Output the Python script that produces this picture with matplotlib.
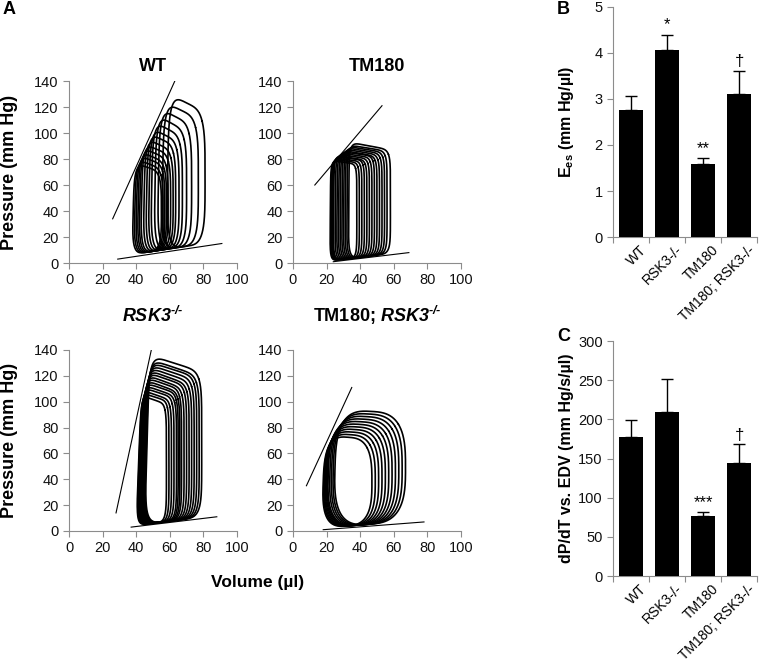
import matplotlib
matplotlib.use("Agg")
import matplotlib.pyplot as plt
import numpy as np

plt.rcParams['font.family'] = ['Liberation Sans', 'DejaVu Sans']
plt.rcParams['mathtext.fontset'] = 'custom'
plt.rcParams['mathtext.rm'] = 'Liberation Sans'
plt.rcParams['mathtext.bf'] = 'Liberation Sans:bold'
plt.rcParams['mathtext.it'] = 'Liberation Sans:italic'
plt.rcParams['mathtext.bfit'] = 'Liberation Sans:italic:bold'

# ---- panel A: pressure-volume loops ----
# esv = left side volume, edv = right side volume,
# pes = top-left pressure, ptr = top-right pressure
wt_esv = [37.5, 38.5, 39.5, 40.5, 41.5, 42.5, 44, 45.5, 47, 48.5, 50.5, 52.5, 55, 58]
wt_edv = [55, 56, 57, 58, 59, 60.5, 62, 63.5, 65.5, 67.5, 70, 73, 77, 81]
wt_pes = [77, 80, 83, 86, 89, 92, 96, 100, 104, 109, 114, 119, 124, 130]
wt_ptr = [70, 72, 75, 77, 80, 83, 86, 90, 93, 97, 101, 106, 111, 116]

tm_esv = [22, 22.5, 23, 23.5, 24, 25, 26, 27, 28, 29, 30, 31, 32, 33]
tm_edv = [38, 39.5, 41, 42.5, 44, 45.5, 47, 48.5, 50, 51.5, 53, 54.5, 56, 58]
tm_pes = [79, 80, 81, 82, 83, 84, 85, 86, 87, 88, 89, 90, 91, 93]
tm_ptr = [76, 77, 78, 79, 79, 80, 81, 82, 82, 83, 84, 85, 86, 87]

rsk_esv = [40, 40.3, 40.6, 41, 41.3, 41.6, 42, 42.3, 42.6, 43, 43.3, 43.6, 44, 44.3, 44.6, 45]
rsk_edv = [58, 59.5, 61, 62.5, 64, 65, 66, 67, 68.5, 70, 71.5, 73, 74.5, 76, 77.5, 79]
rsk_pes = [105, 107, 109, 111, 113, 115, 117, 119, 121, 123, 125, 127, 129, 131, 133, 136]
rsk_ptr = [98, 100, 101, 103, 104, 106, 107, 109, 110, 112, 113, 115, 117, 119, 120, 123]

dbl_esv = [17, 17.5, 18, 18.5, 19, 19.5, 20, 21, 22, 23, 24]
dbl_edv = [47, 49, 51, 53, 55, 57, 59, 61, 63, 65, 67]
dbl_pes = [74, 76, 78, 80, 82, 84, 86, 88, 90, 92, 94]
dbl_ptr = [71, 73, 75, 77, 79, 81, 83, 85, 87, 89, 91]

# ESPVR / EDPVR line end points: (v0, p0, v1, p1)
wt_espvr = (26, 34, 63, 140)
wt_edpvr = (29, 3, 91, 15)
tm_espvr = (13, 60, 53, 121)
tm_edpvr = (24, 1, 69, 8)
rsk_espvr = (28, 14, 49, 140)
rsk_edpvr = (37, 3, 88, 11)
dbl_espvr = (8, 35, 35, 111)
dbl_edpvr = (18, 1, 78, 7)

# ---- panels B and C ----
groups = ['WT', 'RSK3-/-', 'TM180', 'TM180; RSK3-/-']
ees = [2.77, 4.07, 1.58, 3.10]
ees_err = [0.30, 0.33, 0.13, 0.50]
ees_marks = ['', '*', '**', '\u2020']
dpdt = [178, 209, 76, 144]
dpdt_err = [21, 42, 6, 24]
dpdt_marks = ['', '', '***', '\u2020']

GREY = '#8c8c8c'


def loop_path(esv, edv, pes, ptr, edpvr, n, tilt, off):
    v0, p0, v1, p1 = edpvr
    k = (p1 - p0) / (v1 - v0)
    t = np.linspace(0.25 * np.pi, 2.25 * np.pi, 1200)
    c, s = np.cos(t), np.sin(t)
    u = 0.5 + 0.5 * np.sign(c) * np.abs(c) ** (2.0 / n)
    w = 0.5 + 0.5 * np.sign(s) * np.abs(s) ** (2.0 / n)
    bl = np.array([esv, p0 + k * (esv - v0) + off])
    br = np.array([edv, p0 + k * (edv - v0) + off])
    tl = np.array([esv + tilt, pes])
    tr = np.array([edv, ptr])
    pts = ((1 - u) * (1 - w))[:, None] * bl + (u * (1 - w))[:, None] * br \
        + ((1 - u) * w)[:, None] * tl + (u * w)[:, None] * tr
    return pts[:, 0], pts[:, 1]


def style_pv(ax):
    ax.set_xlim(0, 100)
    ax.set_ylim(0, 140)
    ax.set_xticks(range(0, 101, 20))
    ax.set_yticks(range(0, 141, 20))
    for side in ['top', 'right']:
        ax.spines[side].set_visible(False)
    for side in ['left', 'bottom']:
        ax.spines[side].set_color(GREY)
    ax.tick_params(colors=GREY, labelcolor='#111111', labelsize=10.5, length=4, width=0.8)
    ax.set_facecolor('none')


fig = plt.figure(figsize=(7.6, 6.63), dpi=100)

sup = r'^{\mathbfit{\u2010/\u2010}}'.replace('\\u2010', '\u2010')
pv = [
    ([0.0908, 0.6033, 0.221, 0.2745], 'WT', 7, wt_esv, wt_edv, wt_pes, wt_ptr, wt_espvr, wt_edpvr, 4, 1.5, 2),
    ([0.3855, 0.6033, 0.221, 0.2745], 'TM180', 7, tm_esv, tm_edv, tm_pes, tm_ptr, tm_espvr, tm_edpvr, 7, 0.5, 1),
    ([0.0908, 0.1991, 0.221, 0.273], r'$\mathbfit{RSK3}' + sup + '$', 20, rsk_esv, rsk_edv, rsk_pes, rsk_ptr,
     rsk_espvr, rsk_edpvr, 6, 3, 1),
    ([0.3855, 0.1991, 0.221, 0.273], r'TM180; $\mathbfit{RSK3}' + sup + '$', 20, dbl_esv, dbl_edv, dbl_pes,
     dbl_ptr, dbl_espvr, dbl_edpvr, 3, 2, 1.5),
]

for rect, title, tpad, esv, edv, pes, ptr, espvr, edpvr, n, tilt, off in pv:
    ax = fig.add_axes(rect)
    for i in range(len(esv)):
        x, y = loop_path(esv[i], edv[i], pes[i], ptr[i], edpvr, n, tilt, off)
        ax.plot(x, y, color='black', lw=1.2, solid_capstyle='round', solid_joinstyle='round')
    ax.plot([espvr[0], espvr[2]], [espvr[1], espvr[3]], color='black', lw=0.8)
    ax.plot([edpvr[0], edpvr[2]], [edpvr[1], edpvr[3]], color='black', lw=0.8)
    ax.set_title(title, fontsize=13, fontweight='bold', pad=tpad)
    style_pv(ax)

fig.text(0.013, 0.7406, 'Pressure (mm Hg)', rotation=90, ha='center', va='center',
         fontsize=13, fontweight='bold')
fig.text(0.013, 0.336, 'Pressure (mm Hg)', rotation=90, ha='center', va='center',
         fontsize=13, fontweight='bold')
fig.text(0.339, 0.1207, 'Volume (\u00b5l)', ha='center', va='center', fontsize=12.5, fontweight='bold')


def bar_panel(rect, vals, errs, marks, ylim, step, ylabel, mark_pad):
    ax = fig.add_axes(rect)
    pos = np.arange(len(groups))
    ax.bar(pos, vals, width=0.66, color='black', zorder=3,
           yerr=[[0] * len(vals), errs], capsize=4,
           error_kw=dict(ecolor='black', elinewidth=1, capthick=1))
    for i, m in enumerate(marks):
        if m:
            ax.text(pos[i], vals[i] + errs[i] + mark_pad, m, ha='center', va='bottom', fontsize=12)
    ax.set_xlim(-0.5, len(groups) - 0.5)
    ax.set_ylim(0, ylim)
    ax.set_yticks(np.arange(0, ylim + step / 2, step))
    ax.set_xticks(pos + 0.22)
    ax.set_xticklabels(groups, rotation=45, ha='right', rotation_mode='anchor', fontsize=10)
    ax.set_xticks(np.arange(-0.5, len(groups), 1.0), minor=True)
    ax.tick_params(axis='x', which='major', length=0, pad=4)
    ax.tick_params(axis='x', which='minor', length=4, color=GREY, width=0.8)
    ax.tick_params(axis='y', colors=GREY, labelcolor='#111111', labelsize=10.5, length=4, width=0.8)
    for side in ['top', 'right']:
        ax.spines[side].set_visible(False)
    for side in ['left', 'bottom']:
        ax.spines[side].set_color(GREY)
    fig.text(0.745, rect[1] + rect[3] / 2, ylabel, rotation=90, ha='center', va='center',
             fontsize=11.5, fontweight='bold')
    return ax


bar_panel([0.8066, 0.6425, 0.190, 0.347], ees, ees_err, ees_marks, 5, 1,
          'E$_{\\mathbf{es}}$ (mm Hg/\u00b5l)', 0.05)
bar_panel([0.8066, 0.1312, 0.190, 0.3544], dpdt, dpdt_err, dpdt_marks, 300, 50,
          'dP/dT vs. EDV (mm Hg/s/\u00b5l)', 2)

fig.text(0.003, 0.998, 'A', fontsize=13, fontweight='bold', va='top', ha='left')
fig.text(0.733, 0.998, 'B', fontsize=13, fontweight='bold', va='top', ha='left')
fig.text(0.733, 0.505, 'C', fontsize=13, fontweight='bold', va='top', ha='left')

fig.savefig('out.png', dpi=100)
